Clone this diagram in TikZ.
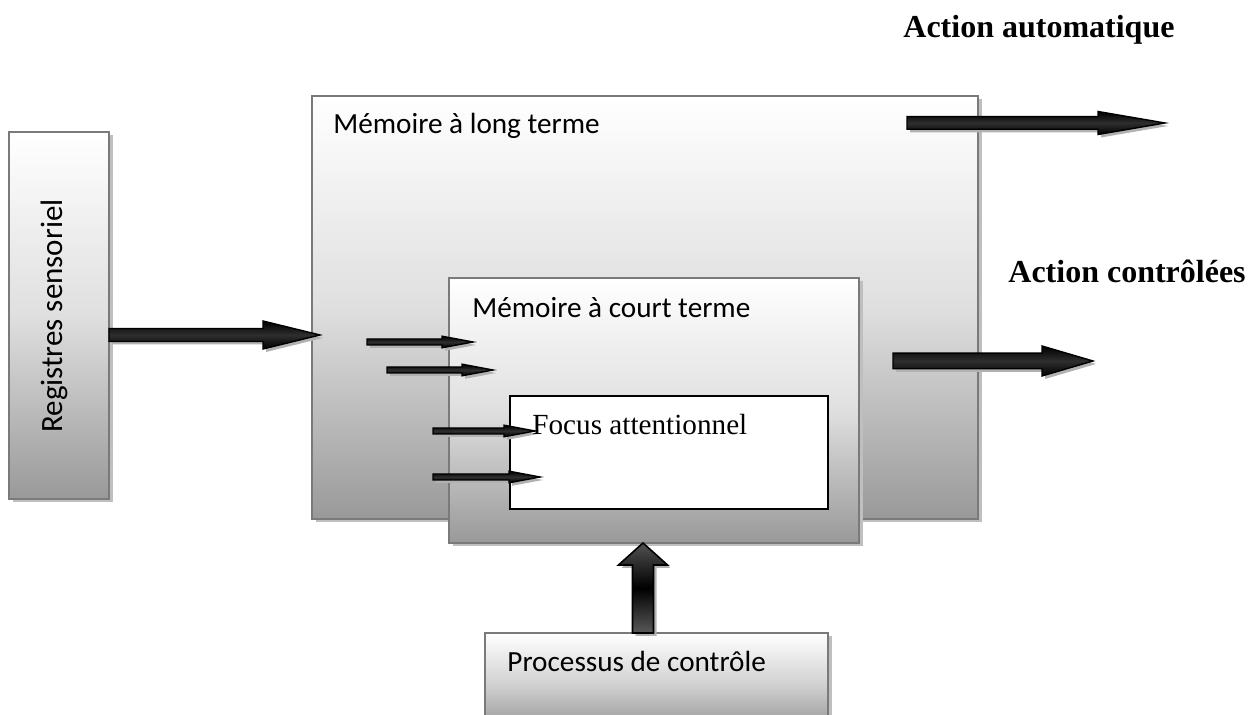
\documentclass[tikz,border=0pt]{standalone}
\usepackage{fontspec}
\setmainfont{Liberation Serif}
\newfontfamily\calibrifont{Carlito}
\usetikzlibrary{calc,shadows}
\tikzset{
  box/.style={rectangle, inner sep=0pt, outer sep=0pt, anchor=north west,
    draw=black!52, line width=1pt, top color=white, bottom color=gray!80, middle color=gray!25,
    drop shadow={shadow xshift=1.75pt, shadow yshift=-1.75pt, fill=black!25, opacity=1}},
  focusbox/.style={rectangle, inner sep=0pt, outer sep=0pt, anchor=north west,
    draw=black, line width=0.7pt, fill=white},
  boxlabel/.style={inner sep=0pt, anchor=base west, font=\calibrifont\fontsize{14.6}{17}\selectfont},
  serlabel/.style={inner sep=0pt, anchor=base west, font=\fontsize{14.6}{17}\selectfont},
  actlabel/.style={inner sep=0pt, anchor=base west, font=\bfseries\fontsize{16}{19}\selectfont},
  arrowbody/.style={draw=black, line width=0.7pt, top color=black, bottom color=black, middle color=black!82},
  uparrowbody/.style={draw=black, line width=0.8pt, top color=black!68, bottom color=black!65, middle color=black},
  arrowshadow/.style={fill=black!30},
}
% horizontal block arrow: start, end, shaft half height, head half height, head length
\newcommand\hblock[5]{%
  \begin{scope}[transform canvas={shift={(1.5pt,-1.5pt)}}]
    \fill[arrowshadow] ($(#1)+(0,-#3)$) -- ($(#2)+(-#5,-#3)$) -- ($(#2)+(-#5,-#4)$) -- (#2)
      -- ($(#2)+(-#5,#4)$) -- ($(#2)+(-#5,#3)$) -- ($(#1)+(0,#3)$) -- cycle;
  \end{scope}
  \path[arrowbody] ($(#1)+(0,-#3)$) -- ($(#2)+(-#5,-#3)$) -- ($(#2)+(-#5,-#4)$) -- (#2)
      -- ($(#2)+(-#5,#4)$) -- ($(#2)+(-#5,#3)$) -- ($(#1)+(0,#3)$) -- cycle;
}
\begin{document}
\begin{tikzpicture}[x=0.5pt,y=-0.5pt]
  \useasboundingbox (0,0) rectangle (1254,715);
  \clip (0,0) rectangle (1254,715);

  % boxes
  \node[box, minimum width=333pt, minimum height=211.5pt] (lt) at (312,96) {};
  \node[box, minimum width=50pt, minimum height=183.5pt] (sens) at (9,132) {};
  \node[box, minimum width=205pt, minimum height=132.5pt] (st) at (449,278) {};
  \node[focusbox, minimum width=159pt, minimum height=56.5pt] (focus) at (510,396) {};
  \node[box, minimum width=171.5pt, minimum height=50pt, bottom color=gray!85, middle color=gray!35] (proc) at (485,633) {};

  % labels
  \node[boxlabel] (ltlab) at (333,134) {Mémoire à long terme};
  \node[boxlabel] (stlab) at (472,318) {Mémoire à court terme};
  \node[boxlabel] (proclab) at (507,672) {Processus de contrôle};
  \node[inner sep=0pt, anchor=base, rotate=90, font=\calibrifont\fontsize{15.5}{18}\selectfont] (senslab) at (62,316) {Registres sensoriel};
  \node[actlabel] (auto) at (903,38) {Action automatique};
  \node[actlabel] (ctrl) at (1008,283) {Action contrôlées};

  % arrow end points
  \coordinate (a1s) at (sens.east |- 0,335);
  \coordinate (a1e) at (320,335);
  \coordinate (a2s) at (907,123);
  \coordinate (a2e) at (1165,123);
  \coordinate (a3s) at (893,361);
  \coordinate (a3e) at (1093,361);
  \coordinate (s1s) at (367,342);
  \coordinate (s1e) at (473,342);
  \coordinate (s2s) at (387,370);
  \coordinate (s2e) at (493,370);
  \coordinate (s3s) at (433,431);
  \coordinate (s3e) at (535,431);
  \coordinate (s4s) at (433,477);
  \coordinate (s4e) at (540,477);
  \coordinate (u1) at (643,633);
  \coordinate (u2) at (643,543);

  % block arrows
  \hblock{a1s}{a1e}{6.5}{14}{57}
  \hblock{a2s}{a2e}{6.3}{11.5}{67}
  \hblock{a3s}{a3e}{7.8}{15}{51}
  \hblock{s1s}{s1e}{3}{5.8}{31}
  \hblock{s2s}{s2e}{3}{5.8}{31}
  \hblock{s3s}{s3e}{3}{5.8}{31}
  \hblock{s4s}{s4e}{3}{5.8}{31}

  % upward arrow
  \begin{scope}[transform canvas={shift={(1.5pt,-1.5pt)}}]
    \fill[arrowshadow] ($(u1)+(-10.5,0)$) -- ($(u2)+(-10.5,22)$) -- ($(u2)+(-24.5,22)$) -- (u2)
      -- ($(u2)+(24.5,22)$) -- ($(u2)+(10.5,22)$) -- ($(u1)+(10.5,0)$) -- cycle;
  \end{scope}
  \path[uparrowbody] ($(u1)+(-10.5,0)$) -- ($(u2)+(-10.5,22)$) -- ($(u2)+(-24.5,22)$) -- (u2)
      -- ($(u2)+(24.5,22)$) -- ($(u2)+(10.5,22)$) -- ($(u1)+(10.5,0)$) -- cycle;

  \node[serlabel] (focuslab) at (532,435) {Focus attentionnel};
\end{tikzpicture}
\end{document}
